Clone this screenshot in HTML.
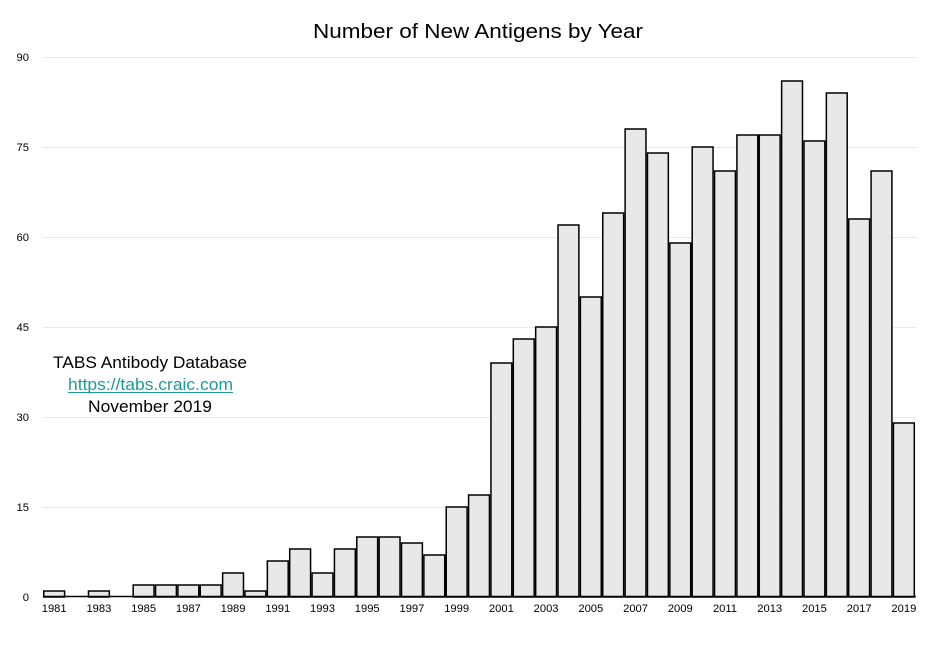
<!DOCTYPE html>
<html><head><meta charset="utf-8"><style>
html,body{margin:0;padding:0;background:#fff;}
svg{display:block;font-family:"Liberation Sans",Arial,sans-serif;}
</style></head><body>
<svg width="950" height="650" viewBox="0 0 950 650" xmlns="http://www.w3.org/2000/svg">
<rect width="950" height="650" fill="#fff"/>
<text x="478" y="38" font-size="20.5" text-anchor="middle" fill="#000" textLength="330" lengthAdjust="spacingAndGlyphs">Number of New Antigens by Year</text>
<g stroke="#e8e8e8" stroke-width="1">
<line x1="43" y1="57.5" x2="916" y2="57.5"/>
<line x1="43" y1="147.5" x2="916" y2="147.5"/>
<line x1="43" y1="237.5" x2="916" y2="237.5"/>
<line x1="43" y1="327.5" x2="916" y2="327.5"/>
<line x1="43" y1="417.5" x2="916" y2="417.5"/>
<line x1="43" y1="507.5" x2="916" y2="507.5"/>
</g>
<g font-size="11.2" text-anchor="end" fill="#000">
<text x="29" y="61">90</text>
<text x="29" y="151">75</text>
<text x="29" y="241">60</text>
<text x="29" y="331">45</text>
<text x="29" y="421">30</text>
<text x="29" y="511">15</text>
<text x="29" y="601">0</text>
</g>
<g fill="#e8e8e8" stroke="#000" stroke-width="1.5">
<rect x="43.75" y="591" width="20.86" height="6"/>
<rect x="88.47" y="591" width="20.86" height="6"/>
<rect x="133.19" y="585" width="20.86" height="12"/>
<rect x="155.55" y="585" width="20.86" height="12"/>
<rect x="177.91" y="585" width="20.86" height="12"/>
<rect x="200.27" y="585" width="20.86" height="12"/>
<rect x="222.63" y="573" width="20.86" height="24"/>
<rect x="244.99" y="591" width="20.86" height="6"/>
<rect x="267.35" y="561" width="20.86" height="36"/>
<rect x="289.71" y="549" width="20.86" height="48"/>
<rect x="312.07" y="573" width="20.86" height="24"/>
<rect x="334.43" y="549" width="20.86" height="48"/>
<rect x="356.79" y="537" width="20.86" height="60"/>
<rect x="379.15" y="537" width="20.86" height="60"/>
<rect x="401.51" y="543" width="20.86" height="54"/>
<rect x="423.87" y="555" width="20.86" height="42"/>
<rect x="446.23" y="507" width="20.86" height="90"/>
<rect x="468.59" y="495" width="20.86" height="102"/>
<rect x="490.95" y="363" width="20.86" height="234"/>
<rect x="513.31" y="339" width="20.86" height="258"/>
<rect x="535.67" y="327" width="20.86" height="270"/>
<rect x="558.03" y="225" width="20.86" height="372"/>
<rect x="580.39" y="297" width="20.86" height="300"/>
<rect x="602.75" y="213" width="20.86" height="384"/>
<rect x="625.11" y="129" width="20.86" height="468"/>
<rect x="647.47" y="153" width="20.86" height="444"/>
<rect x="669.83" y="243" width="20.86" height="354"/>
<rect x="692.19" y="147" width="20.86" height="450"/>
<rect x="714.55" y="171" width="20.86" height="426"/>
<rect x="736.91" y="135" width="20.86" height="462"/>
<rect x="759.27" y="135" width="20.86" height="462"/>
<rect x="781.63" y="81" width="20.86" height="516"/>
<rect x="803.99" y="141" width="20.86" height="456"/>
<rect x="826.35" y="93" width="20.86" height="504"/>
<rect x="848.71" y="219" width="20.86" height="378"/>
<rect x="871.07" y="171" width="20.86" height="426"/>
<rect x="893.43" y="423" width="20.86" height="174"/>
</g>
<line x1="43" y1="596.5" x2="916" y2="596.5" stroke="#000" stroke-width="1.5"/>
<g font-size="11.2" text-anchor="middle" fill="#000">
<text x="54.18" y="612">1981</text>
<text x="98.9" y="612">1983</text>
<text x="143.62" y="612">1985</text>
<text x="188.34" y="612">1987</text>
<text x="233.06" y="612">1989</text>
<text x="277.78" y="612">1991</text>
<text x="322.5" y="612">1993</text>
<text x="367.22" y="612">1995</text>
<text x="411.94" y="612">1997</text>
<text x="456.66" y="612">1999</text>
<text x="501.38" y="612">2001</text>
<text x="546.1" y="612">2003</text>
<text x="590.82" y="612">2005</text>
<text x="635.54" y="612">2007</text>
<text x="680.26" y="612">2009</text>
<text x="724.98" y="612">2011</text>
<text x="769.7" y="612">2013</text>
<text x="814.42" y="612">2015</text>
<text x="859.14" y="612">2017</text>
<text x="903.86" y="612">2019</text>
</g>
<g font-size="17" text-anchor="middle">
<text x="150" y="368" fill="#000" textLength="194" lengthAdjust="spacingAndGlyphs">TABS Antibody Database</text>
<text x="150.5" y="390" fill="#1e9a96" textLength="165" lengthAdjust="spacingAndGlyphs">https://tabs.craic.com</text>
<line x1="68" y1="392.5" x2="233" y2="392.5" stroke="#1e9a96" stroke-width="1"/>
<text x="150" y="412" fill="#000" textLength="124" lengthAdjust="spacingAndGlyphs">November 2019</text>
</g>
</svg>
</body></html>
